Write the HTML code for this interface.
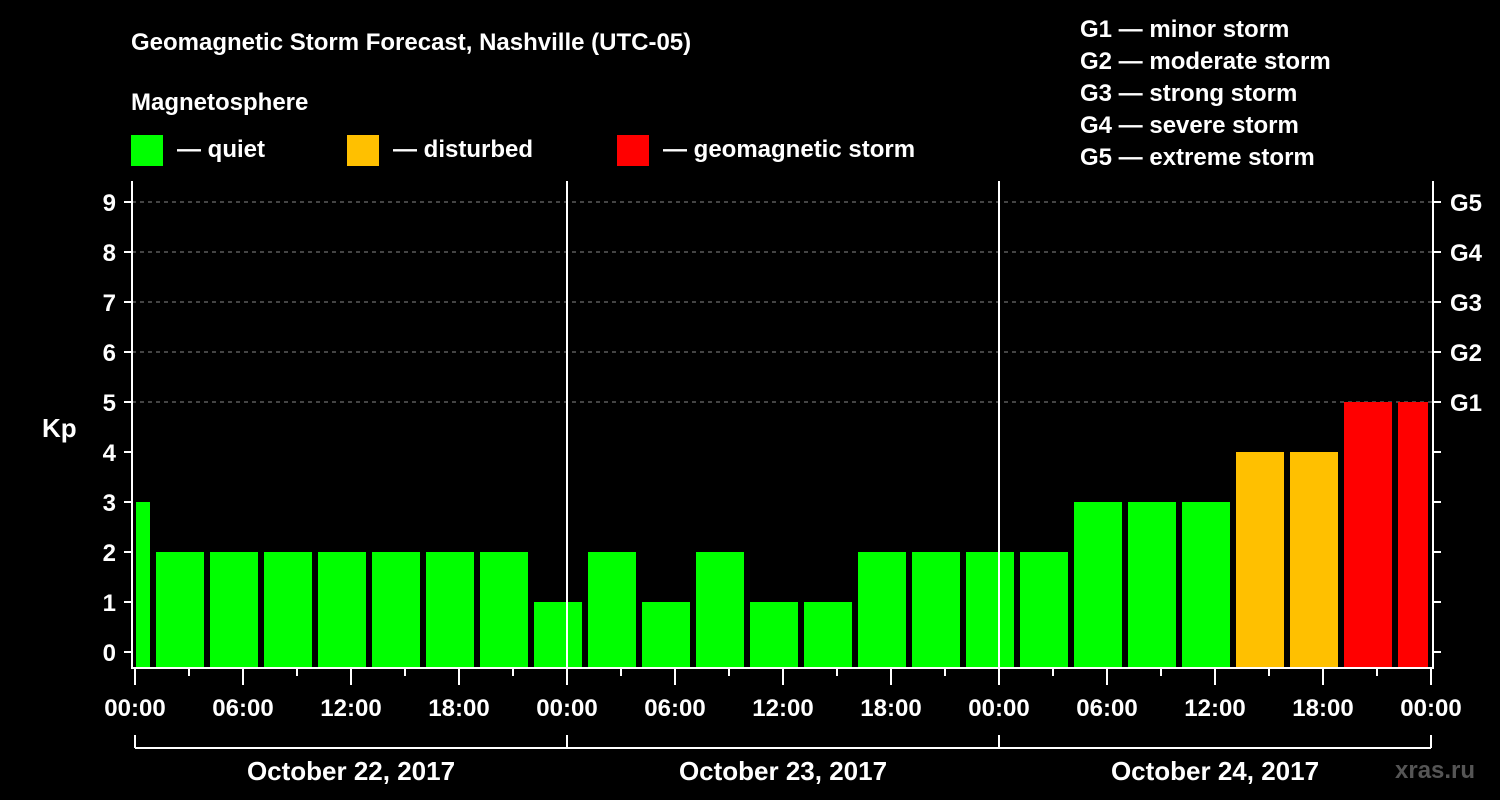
<!DOCTYPE html>
<html><head><meta charset="utf-8"><style>
html,body{margin:0;padding:0;background:#000;}
svg{display:block;font-family:"Liberation Sans",Arial,sans-serif;font-weight:bold;}
</style></head><body>
<svg id="chart" width="1500" height="800" viewBox="0 0 1500 800">
<text x="131" y="50" fill="#fff" font-size="24">Geomagnetic Storm Forecast, Nashville (UTC-05)</text>
<text x="131" y="110" fill="#fff" font-size="24">Magnetosphere</text>
<g><rect x="131" y="135" width="32" height="31" fill="#00ff00"/><text x="177" y="157" fill="#fff" font-size="24">— quiet</text></g>
<g><rect x="347" y="135" width="32" height="31" fill="#ffc000"/><text x="393" y="157" fill="#fff" font-size="24">— disturbed</text></g>
<g><rect x="617" y="135" width="32" height="31" fill="#ff0000"/><text x="663" y="157" fill="#fff" font-size="24">— geomagnetic storm</text></g>
<g fill="#fff" font-size="24">
<text x="1080" y="37">G1 — minor storm</text><text x="1080" y="69">G2 — moderate storm</text><text x="1080" y="101">G3 — strong storm</text><text x="1080" y="133">G4 — severe storm</text><text x="1080" y="165">G5 — extreme storm</text>
</g>
<text x="42" y="437" fill="#fff" font-size="26">Kp</text>
<text x="1395" y="778" fill="#555" font-size="24">xras.ru</text>
<g id="grid"></g><g id="bars"></g><g id="axes"></g>
</svg>
<script>
const kpValues=[3,2,2,2,2,2,2,2,1,2,1,2,1,1,2,2,2,2,3,3,3,4,4,5,5];
const yTicks=[0,1,2,3,4,5,6,7,8,9];
const gLabels=["G1","G2","G3","G4","G5"];
const xTickLabels=["00:00","06:00","12:00","18:00","00:00","06:00","12:00","18:00","00:00","06:00","12:00","18:00","00:00"];
const dayLabels=["October 22, 2017","October 23, 2017","October 24, 2017"];
const NS="http://www.w3.org/2000/svg";
const X0=135,PX_H=18,Y0=652,PX_K=50,LEFT=132,RIGHT=1433,TOP=181,BOT=668;
const xs=h=>X0+h*PX_H, ys=k=>Y0-k*PX_K;
function mk(tag,attrs,parent){const e=document.createElementNS(NS,tag);for(const k in attrs)e.setAttribute(k,attrs[k]);parent.appendChild(e);return e;}
const grid=document.getElementById('grid'),bars=document.getElementById('bars'),axes=document.getElementById('axes');
yTicks.forEach(k=>{if(k>=5){const l=mk('line',{x1:LEFT,x2:RIGHT,y1:ys(k),y2:ys(k),stroke:'#888','stroke-dasharray':'4,4','stroke-width':1},grid);

}});
kpValues.forEach((v,i)=>{const h0=-2+3*i;let x1=xs(h0)+3,x2=xs(h0+3)-3;x1=Math.max(x1,X0+1);x2=Math.min(x2,RIGHT-5);
const c=v>=5?'#ff0000':(v>=4?'#ffc000':'#00ff00');
const r=mk('rect',{x:x1,y:ys(v),width:x2-x1,height:BOT-ys(v),fill:c},bars);

});
const W={stroke:'#fff','stroke-width':2};
mk('line',{x1:LEFT,x2:LEFT,y1:TOP,y2:BOT+1,...W},axes);
mk('line',{x1:RIGHT,x2:RIGHT,y1:TOP,y2:BOT+1,...W},axes);
mk('line',{x1:LEFT,x2:RIGHT,y1:BOT,y2:BOT,...W},axes);
[1,2].forEach(d=>{const l=mk('line',{x1:xs(24*d),x2:xs(24*d),y1:TOP,y2:BOT,...W},axes);

});
yTicks.forEach(k=>{mk('line',{x1:124,x2:LEFT,y1:ys(k),y2:ys(k),...W},axes);mk('line',{x1:RIGHT,x2:1441,y1:ys(k),y2:ys(k),...W},axes);
const t=mk('text',{x:116,y:ys(k)+9,fill:'#fff','font-size':24,'text-anchor':'end'},axes);t.textContent=k;

});
gLabels.forEach((g,i)=>{const t=mk('text',{x:1450,y:ys(5+i)+9,fill:'#fff','font-size':24},axes);t.textContent=g;

});
for(let h=0;h<=72;h+=3){const major=h%6===0;mk('line',{x1:xs(h),x2:xs(h),y1:BOT,y2:major?685:676,...W},axes);}
xTickLabels.forEach((s,i)=>{const t=mk('text',{x:xs(6*i),y:716,fill:'#fff','font-size':24,'text-anchor':'middle'},axes);t.textContent=s;

});
mk('line',{x1:xs(0),x2:xs(72),y1:748,y2:748,...W},axes);
for(let d=0;d<=3;d++)mk('line',{x1:xs(24*d),x2:xs(24*d),y1:735,y2:748,...W},axes);
dayLabels.forEach((s,i)=>{const t=mk('text',{x:xs(24*i+12),y:780,fill:'#fff','font-size':26,'text-anchor':'middle'},axes);t.textContent=s;

});
</script>
</body></html>
